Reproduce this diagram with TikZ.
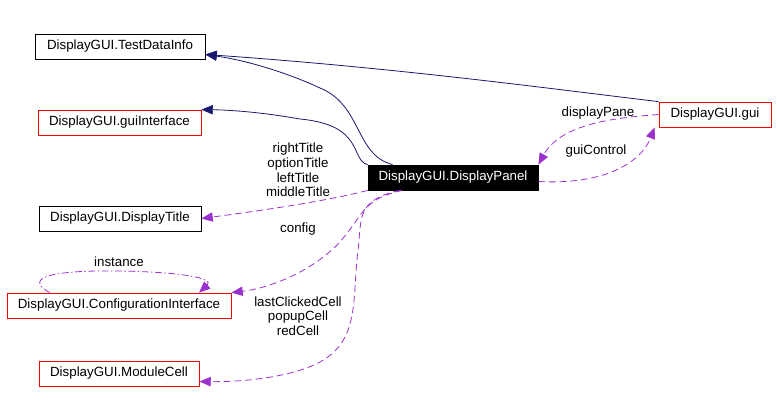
\documentclass[tikz,border=0pt]{standalone}
\usepackage{fontspec}
\setmainfont{Liberation Sans}
\usetikzlibrary{arrows.meta}
\usetikzlibrary{positioning, shapes}

\definecolor{navyline}{HTML}{191970}
\definecolor{usepurple}{HTML}{9A32CD}
\tikzset{
  cls/.style={draw=black, line width=0.6pt, minimum height=18.75pt, minimum width=#1*0.75pt, inner sep=0pt, font=\fontsize{10}{10.9}\selectfont},
  redcls/.style={cls=#1, draw=red},
  inherit/.style={draw=navyline, line width=0.6pt, -{Triangle[length=8.5pt,width=7pt]}},
  uses/.style={draw=usepurple, line width=0.6pt, dash pattern=on 5pt off 3pt, -{Triangle[length=8.5pt,width=7pt]}},
  lbl/.style={align=center, inner sep=0pt, font=\fontsize{10}{10.9}\selectfont}
}

\begin{document}
\begin{tikzpicture}[x=0.75pt,y=-0.75pt]
\useasboundingbox (0,0) rectangle (777,404);
% classes
\node [cls=170] (testinfo) at (120,46.5) {DisplayGUI.TestDataInfo};
\node [redcls=163] (guiint) at (119.5,122.5) {DisplayGUI.guiInterface};
\node [cls=162] (title) at (120,218.5) {DisplayGUI.DisplayTitle};
\node [redcls=224] (config) at (119,305.5) {DisplayGUI.ConfigurationInterface};
\node [redcls=160] (module) at (119,373.5) {DisplayGUI.ModuleCell};
\node [cls=170, fill=black, text=white] (panel) at (453,177.5) {DisplayGUI.DisplayPanel};
\node [redcls=112] (gui) at (715,114.5) {DisplayGUI.gui};

% inheritance
\draw [inherit] ([xshift=18.75pt]panel.north west) .. controls (355,155) and (362,105) .. (320,88)
      .. controls (290,74) and (250,61) .. ([yshift=-6pt]testinfo.east);
\draw [inherit] (gui.north west) .. controls (560,90) and (400,68) .. ([yshift=-6pt]testinfo.east);
\draw [inherit] (panel.north west) .. controls (350,160) and (365,125) .. (300,119)
      .. controls (260,112) and (230,110) .. (guiint.north east);

% usage
\draw [uses] (panel.south west) .. controls (330,200) and (280,208) .. (title.east);
\draw [uses] ([xshift=26pt]panel.south west) .. controls (360,200) and (365,215) .. (337,245)
      .. controls (310,272) and (270,288) .. (config.north east);
\draw [uses] ([xshift=24pt]panel.south west) .. controls (355,200) and (362,220) .. (358,250)
      .. controls (352,300) and (360,340) .. (320,362)
      .. controls (290,378) and (240,382) .. ([yshift=-6pt]module.east);
\draw [uses, dash pattern=on 5pt off 2pt on 1pt off 2pt] ([xshift=-52pt]config.north) .. controls (20,276) and (60,270) .. (120,271)
      .. controls (180,272) and (215,278) .. ([xshift=60pt]config.north);
\draw [uses] (gui.west) .. controls (610,118) and (560,125) .. (panel.north east);
\draw [uses] ([yshift=-3pt]panel.east) .. controls (600,185) and (640,165) .. ([xshift=-3pt]gui.south west);

% labels
\node [lbl] (titlelbl) at (298,170) {rightTitle\\optionTitle\\leftTitle\\middleTitle};
\node [lbl] (configlbl) at (298,229) {config};
\node [lbl] (celllbl) at (298,316) {lastClickedCell\\popupCell\\redCell};
\node [lbl] (instlbl) at (119,262) {instance};
\node [lbl] (panelbl) at (598,113) {displayPane};
\node [lbl] (ctrllbl) at (596,151) {guiControl};
\end{tikzpicture}
\end{document}
